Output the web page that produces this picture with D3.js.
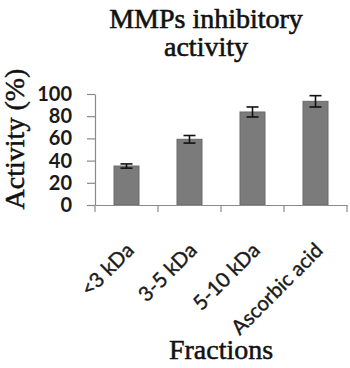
<!DOCTYPE html>
<html>
<head>
<meta charset="utf-8">
<script src="https://cdn.jsdelivr.net/npm/d3@7"></script>
<style>
  html, body { margin: 0; padding: 0; background: #fff; }
  svg { display: block; }
</style>
</head>
<body>
<svg id="chart" width="350" height="368"></svg>
<script>
const categories = ["<3 kDa", "3-5 kDa", "5-10 kDa", "Ascorbic acid"];
const values = [35.1, 59.2, 83.8, 93.4];
const errors = [1.9, 3.4, 4.5, 5.1];
const yTicks = [0, 20, 40, 60, 80, 100];
const titleLines = ["MMPs inhibitory", "activity"];
const yLabel = "Activity (%)";
const xLabel = "Fractions";

(function () {
const svg = d3.select("#chart");
const mLeft = 95, mRight = 347, mTop = 94, mBottom = 205;

const xb = d3.scaleBand().domain(categories).range([mLeft, mRight]);
const y = d3.scaleLinear().domain([0, 100]).range([mBottom, mTop]);

const axisColor = "#8a8a8a";
const sans = "Lato, 'Open Sans', sans-serif";
const serif = "'Liberation Serif', 'Times New Roman', serif";

// bars
svg.append("g").selectAll("rect").data(values).join("rect")
  .attr("x", (d, i) => xb(categories[i]) + xb.bandwidth() / 2 - 12.5)
  .attr("width", 25)
  .attr("y", d => y(d))
  .attr("height", d => y(0) - y(d))
  .attr("fill", "#7b7b7b")
  .attr("stroke", "#6a6a6a")
  .attr("stroke-width", 1);

// error bars
const eg = svg.append("g").attr("stroke", "#111").attr("stroke-width", 1.6);
values.forEach((v, i) => {
  const cx = xb(categories[i]) + xb.bandwidth() / 2;
  eg.append("line").attr("x1", cx).attr("x2", cx).attr("y1", y(v + errors[i])).attr("y2", y(v - errors[i]));
  eg.append("line").attr("x1", cx - 6).attr("x2", cx + 6).attr("y1", y(v + errors[i])).attr("y2", y(v + errors[i]));
  eg.append("line").attr("x1", cx - 6).attr("x2", cx + 6).attr("y1", y(v - errors[i])).attr("y2", y(v - errors[i]));
});

// y axis
const ya = svg.append("g").attr("transform", `translate(${mLeft},0)`)
  .call(d3.axisLeft(y).tickValues(yTicks).tickSize(8).tickSizeOuter(0).tickPadding(15));
ya.select(".domain").attr("stroke", axisColor).attr("stroke-width", 1.2);
ya.selectAll(".tick line").attr("stroke", axisColor).attr("stroke-width", 1.2);
ya.selectAll(".tick text").attr("font-family", sans).attr("font-size", 20).attr("font-weight", "bold").attr("fill", "#1a1a1a");

// x axis
const xa = svg.append("g").attr("transform", `translate(0,${mBottom})`)
  .call(d3.axisBottom(xb).tickSize(0).tickFormat(""));
xa.select(".domain").attr("stroke", axisColor).attr("stroke-width", 1.2);
const bounds = categories.map(c => xb(c)).concat([mRight]);
xa.selectAll(".sep").data(bounds).join("line").attr("class", "sep")
  .attr("x1", d => d).attr("x2", d => d).attr("y1", 0).attr("y2", 7)
  .attr("stroke", axisColor).attr("stroke-width", 1.2);

// x labels rotated
svg.append("g").selectAll("text").data(categories).join("text")
  .attr("transform", d => `translate(${xb(d) + xb.bandwidth() / 2 + 3},${mBottom + 41}) rotate(-45)`)
  .attr("text-anchor", "end")
  .attr("dominant-baseline", "central")
  .attr("font-family", sans)
  .attr("font-size", 20.5)
  .attr("fill", "#1a1a1a")
  .attr("stroke", "#1a1a1a").attr("stroke-width", 0.4)
  .text(d => d);

// title
svg.append("text")
  .attr("x", 206).attr("y", 28)
  .attr("text-anchor", "middle")
  .attr("font-family", serif).attr("font-size", 28).attr("fill", "#111")
  .attr("stroke", "#111").attr("stroke-width", 0.6)
  .selectAll("tspan").data(titleLines).join("tspan")
  .attr("x", 206).attr("dy", (d, i) => i === 0 ? 0 : 28)
  .text(d => d);

// y label
svg.append("text")
  .attr("transform", "translate(24,139) rotate(-90)")
  .attr("text-anchor", "middle")
  .attr("font-family", serif).attr("font-size", 28).attr("fill", "#111")
  .attr("stroke", "#111").attr("stroke-width", 0.5)
  .text(yLabel);

// x label
svg.append("text")
  .attr("x", 221).attr("y", 359)
  .attr("text-anchor", "middle")
  .attr("font-family", serif).attr("font-size", 28).attr("fill", "#111")
  .attr("stroke", "#111").attr("stroke-width", 0.5)
  .text(xLabel);
})();
</script>
</body>
</html>
